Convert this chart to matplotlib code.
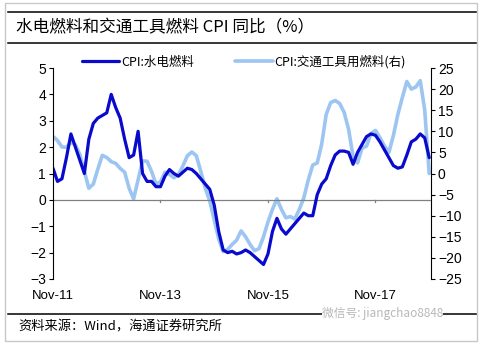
import numpy as np
import pandas as pd
import matplotlib
matplotlib.use("Agg")
import matplotlib.pyplot as plt
from matplotlib.lines import Line2D

plt.rcParams['font.family'] = ['Liberation Sans', 'Noto Sans CJK SC', 'DejaVu Sans']

# monthly data, Nov-2011 .. Nov-2018
months = pd.date_range("2011-11-01", periods=85, freq="MS")

# CPI: water, electricity & fuel (left axis, %)
cpi_fuel = [1.2, 0.7, 0.8, 1.6, 2.5, 2.0, 1.5, 1.0, 2.3, 2.9,
            3.1, 3.2, 3.3, 4.0, 3.5, 3.1, 2.3, 1.6, 1.7, 2.6,
            1.0, 0.7, 0.7, 0.5, 0.5, 0.9, 1.15, 1.0, 0.9, 1.05,
            1.2, 1.15, 1.0, 0.8, 0.6, 0.4, -0.2, -1.2, -1.9, -2.0,
            -1.95, -2.05, -2.0, -1.9, -2.0, -2.15, -2.3, -2.45, -2.05, -1.2,
            -0.7, -1.1, -1.3, -1.1, -0.9, -0.7, -0.5, -0.6, -0.6, 0.2,
            0.6, 0.8, 1.3, 1.7, 1.85, 1.85, 1.8, 1.35, 1.8, 2.1,
            2.4, 2.5, 2.45, 2.2, 1.9, 1.6, 1.3, 1.2, 1.25, 1.7,
            2.2, 2.3, 2.5, 2.35, 1.6]

# CPI: fuel for vehicles (right axis, %)
cpi_vehicle = [8.8, 7.8, 6.3, 6.2, 7.4, 6.8, 4.5, 0.5, -3.5, -2.5,
               1.0, 4.3, 3.8, 2.8, 2.4, 1.2, 0.3, -3.5, -6.0, -1.5,
               3.0, 2.9, 0.5, -2.5, -2.0, 0.3, -0.2, -1.0, -0.3, 1.8,
               4.2, 5.1, 4.2, 0.5, -3.5, -6.5, -11.0, -15.5, -18.5, -18.0,
               -16.8, -15.8, -13.6, -15.0, -16.8, -18.3, -17.8, -15.0, -11.5, -8.5,
               -6.0, -8.5, -10.5, -10.2, -10.8, -8.5, -5.8, -1.5, 2.0, 2.5,
               7.0, 14.0, 16.8, 17.3, 16.6, 14.5, 10.5, 4.0, 2.5, 6.0,
               6.5, 9.5, 10.2, 8.5, 6.5, 5.0, 9.0, 14.0, 18.0, 21.8,
               20.0, 20.5, 22.0, 15.0, 0.0]

xtick_pos = [0, 24, 48, 72]
xtick_labels = ["Nov-11", "Nov-13", "Nov-15", "Nov-17"]

dark = '#0a0acc'
light = '#9cc5f2'
x = np.arange(len(months))
cjk = ['Noto Sans CJK SC', 'DejaVu Sans']

fig = plt.figure(figsize=(4.85, 3.46), dpi=100)
W, H = 485, 346

# frame + rules
fig.patches.append(plt.Rectangle((5 / W, 1 - 341 / H), 472 / W, 338 / H, transform=fig.transFigure,
                                 fill=False, edgecolor='#c8c8c8', lw=1))
for yy in (12, 43, 314):
    fig.add_artist(Line2D([8 / W, 476 / W], [1 - yy / H, 1 - yy / H], color='black', lw=1.1))

fig.text(16 / W, 1 - 28 / H, "水电燃料和交通工具燃料 CPI 同比（%）", fontsize=12,
         family=cjk, va='center', ha='left')
fig.text(18 / W, 1 - 327 / H, "资料来源：Wind，海通证券研究所", fontsize=9.5,
         family=cjk, va='center', ha='left')
fig.text(322 / W, 1 - 313 / H, "微信号: jiangchao8848", fontsize=8.5, color='#b8b8b8',
         family=cjk, va='center', ha='left',
         bbox=dict(facecolor='white', edgecolor='none', pad=0))

ax = fig.add_axes([53 / W, 1 - 279 / H, 378 / W, 211 / H])
ax2 = ax.twinx()

l2, = ax2.plot(x, cpi_vehicle, color=light, lw=2.6, solid_capstyle='round', solid_joinstyle='round')
l1, = ax.plot(x, cpi_fuel, color=dark, lw=2.3, solid_capstyle='round', solid_joinstyle='round')
ax.set_zorder(ax2.get_zorder() + 1)
ax.patch.set_visible(False)

ax.set_xlim(0, 84.4)
ax.set_ylim(-3, 5)
ax2.set_ylim(-25, 25)
ax.set_yticks(range(-3, 6))
ax2.set_yticks(range(-25, 26, 5))

for a in (ax, ax2):
    a.spines['top'].set_visible(False)
    a.spines['bottom'].set_visible(False)
    a.tick_params(labelsize=10, length=3, width=0.8, colors='black', pad=2)
ax.spines['right'].set_visible(False)
ax.spines['left'].set_color('black')
ax2.spines['left'].set_visible(False)
ax2.spines['right'].set_color('black')

# zero line with small ticks, labels at the bottom
ax.axhline(0, color='#808080', lw=0.9, zorder=0)
ax.set_xticks(xtick_pos)
ax.set_xticklabels([])
ax.tick_params(axis='x', length=0)
for p in xtick_pos[1:]:
    ax.plot([p, p], [0, -0.08], color='#808080', lw=0.9, zorder=0)
for p, lab in zip(xtick_pos, xtick_labels):
    ax.text(p, -3.4, lab, ha='center', va='top', fontsize=9.5)

ax.legend([l1, l2], ["CPI:水电燃料", "CPI:交通工具用燃料(右)"], ncol=2, frameon=False,
          loc='upper left', bbox_to_anchor=(0.063, 1.085), handlelength=3.0, handletextpad=0.15,
          columnspacing=3.3, borderaxespad=0,
          prop={'family': cjk, 'size': 9})

fig.savefig("out.png", dpi=100)
